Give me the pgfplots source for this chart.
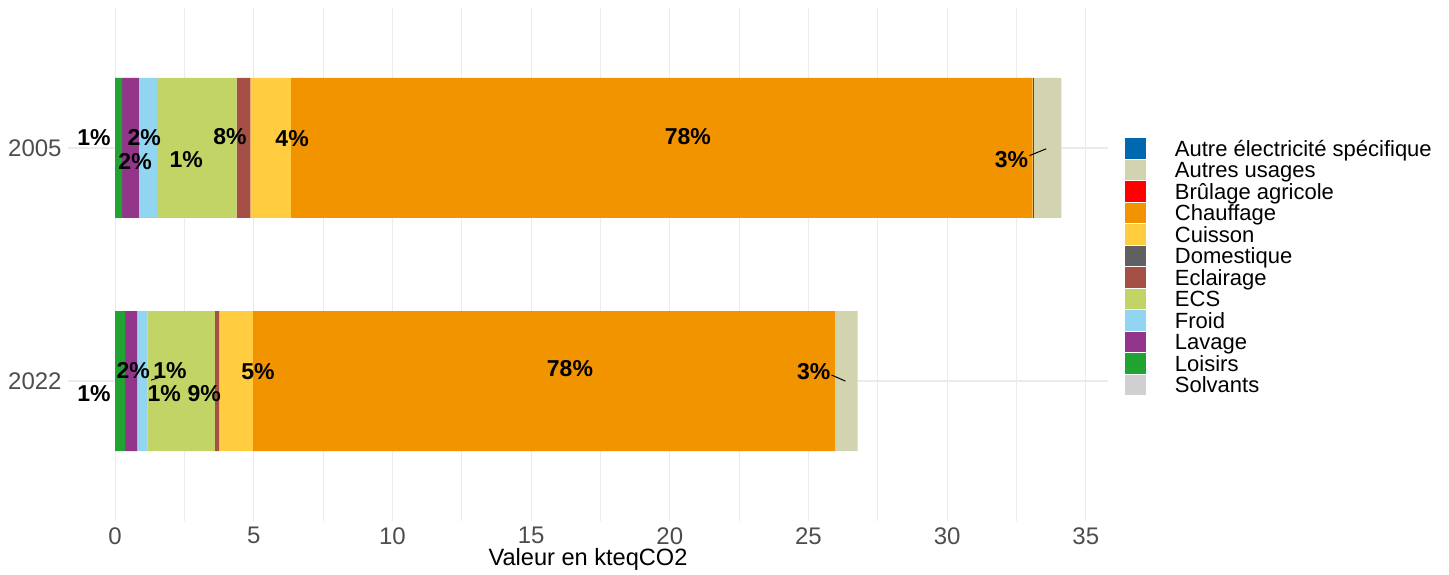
\documentclass[border=0pt]{standalone}
\usepackage{fontspec}
\setmainfont{Liberation Sans}
\usepackage{pgfplots}
\pgfplotsset{compat=1.18}
\definecolor{cAutreElec}{HTML}{0068B0}
\definecolor{cAutres}{HTML}{D2D3AF}
\definecolor{cBrulage}{HTML}{FF0000}
\definecolor{cChauffage}{HTML}{F29400}
\definecolor{cCuisson}{HTML}{FFCD3F}
\definecolor{cDomestique}{HTML}{606060}
\definecolor{cEclairage}{HTML}{A54F47}
\definecolor{cECS}{HTML}{C2D466}
\definecolor{cFroid}{HTML}{91D5F1}
\definecolor{cLavage}{HTML}{93358B}
\definecolor{cLoisirs}{HTML}{21A332}
\definecolor{cSolvants}{HTML}{D0D0D3}
\definecolor{gridgray}{HTML}{EBEBEB}
\definecolor{tickgray}{HTML}{4D4D4D}
\tikzset{lbl/.style={font=\bfseries\fontsize{11.5}{13}\selectfont, inner sep=0pt}}
\begin{document}
\begin{tikzpicture}
\begin{axis}[
  at={(34pt,26.5pt)}, anchor=south west, scale only axis,
  width=520pt, height=256.5pt,
  xbar stacked, bar width=0.6,
  xmin=-1.7, xmax=35.8, ymin=0.4, ymax=2.6,
  ytick={1,2}, yticklabels={2022,2005},
  xtick={0,5,...,35}, minor xtick={2.5,7.5,...,32.5},
  xmajorgrids, ymajorgrids, xminorgrids,
  major grid style={color=gridgray, line width=0.6pt},
  minor grid style={color=gridgray, line width=0.35pt},
  axis line style={draw=none}, tick style={draw=none},
  /pgf/number format/assume math mode=true,
  ticklabel style={font=\fontsize{12}{14}\selectfont, text=tickgray},
  xticklabel style={inner sep=0pt, anchor=north, yshift=-3pt},
  yticklabel style={inner sep=0pt, anchor=east, xshift=-3pt},
  xlabel={Valeur en kteqCO2},
  xlabel style={font=\fontsize{11.8}{14}\selectfont, at={(axis description cs:0.5,-0.0864)}, anchor=base},
  reverse legend,
  legend cell align=left,
  legend style={draw=none, fill=none, at={(axis description cs:1.0163,0.7468)}, anchor=north west,
    font=\fontsize{11}{12}\selectfont, row sep=0pt, inner sep=0pt, outer sep=0pt,
    nodes={inner sep=0pt, text height=9.3pt, text depth=1.45pt},
    /tikz/every odd column/.append style={column sep=14.5pt}},
  legend image code/.code={\fill[#1, draw=none] (0pt,-5.1pt) rectangle (10.5pt,5.1pt);},
]
\addplot[fill=cSolvants, draw=none] coordinates {(0,1) (0,2)};
\addlegendentry{Solvants}
\addplot[fill=cLoisirs, draw=none] coordinates {(0.36,1) (0.25,2)};
\addlegendentry{Loisirs}
\addplot[fill=cLavage, draw=none] coordinates {(0.43,1) (0.61,2)};
\addlegendentry{Lavage}
\addplot[fill=cFroid, draw=none] coordinates {(0.37,1) (0.65,2)};
\addlegendentry{Froid}
\addplot[fill=cECS, draw=none] coordinates {(2.44,1) (2.87,2)};
\addlegendentry{ECS}
\addplot[fill=cEclairage, draw=none] coordinates {(0.15,1) (0.50,2)};
\addlegendentry{Eclairage}
\addplot[fill=cDomestique, draw=none] coordinates {(0,1) (0,2)};
\addlegendentry{Domestique}
\addplot[fill=cCuisson, draw=none] coordinates {(1.22,1) (1.46,2)};
\addlegendentry{Cuisson}
\addplot[fill=cChauffage, draw=none] coordinates {(20.98,1) (26.74,2)};
\addlegendentry{Chauffage}
\addplot[fill=cBrulage, draw=none] coordinates {(0,1) (0.04,2)};
\addlegendentry{Brûlage agricole}
\addplot[fill=cAutres, draw=none] coordinates {(0.82,1) (1.0,2)};
\addlegendentry{Autres usages}
\addplot[fill=cAutreElec, draw=none] coordinates {(0,1) (0,2)};
\addlegendentry{Autre électricité spécifique}
\coordinate (a1) at (axis cs:-0.76,2.043);
\coordinate (a2) at (axis cs:1.045,2.043);
\coordinate (a3) at (axis cs:0.72,1.94);
\coordinate (a4) at (axis cs:2.56,1.948);
\coordinate (a5) at (axis cs:4.14,2.047);
\coordinate (a6) at (axis cs:6.38,2.039);
\coordinate (a7) at (axis cs:20.65,2.047);
\coordinate (a8) at (axis cs:32.32,1.948);
\coordinate (b1) at (axis cs:-0.76,0.948);
\coordinate (b2) at (axis cs:0.65,1.047);
\coordinate (b3) at (axis cs:1.98,1.047);
\coordinate (b4) at (axis cs:1.77,0.948);
\coordinate (b5) at (axis cs:3.21,0.948);
\coordinate (b6) at (axis cs:5.15,1.039);
\coordinate (b7) at (axis cs:16.40,1.052);
\coordinate (b8) at (axis cs:25.19,1.039);
\coordinate (s1a) at (axis cs:32.97,1.967);
\coordinate (s1b) at (axis cs:33.57,1.996);
\coordinate (s2a) at (axis cs:1.30,1.004);
\coordinate (s2b) at (axis cs:1.62,1.017);
\coordinate (s3a) at (axis cs:25.83,1.026);
\coordinate (s3b) at (axis cs:26.33,1.0);
\end{axis}
\node[lbl] at (a1) {1\%};
\node[lbl] at (a2) {2\%};
\node[lbl] at (a3) {2\%};
\node[lbl] at (a4) {1\%};
\node[lbl] at (a5) {8\%};
\node[lbl] at (a6) {4\%};
\node[lbl] at (a7) {78\%};
\node[lbl] at (a8) {3\%};
\node[lbl] at (b1) {1\%};
\node[lbl] at (b2) {2\%};
\node[lbl] at (b3) {1\%};
\node[lbl] at (b4) {1\%};
\node[lbl] at (b5) {9\%};
\node[lbl] at (b6) {5\%};
\node[lbl] at (b7) {78\%};
\node[lbl] at (b8) {3\%};
\draw[line width=0.5pt] (s1a) -- (s1b);
\draw[line width=0.5pt] (s2a) -- (s2b);
\draw[line width=0.5pt] (s3a) -- (s3b);
\pgfresetboundingbox
\path[use as bounding box] (0,0) rectangle (724.5pt,287pt);
\end{tikzpicture}
\end{document}
